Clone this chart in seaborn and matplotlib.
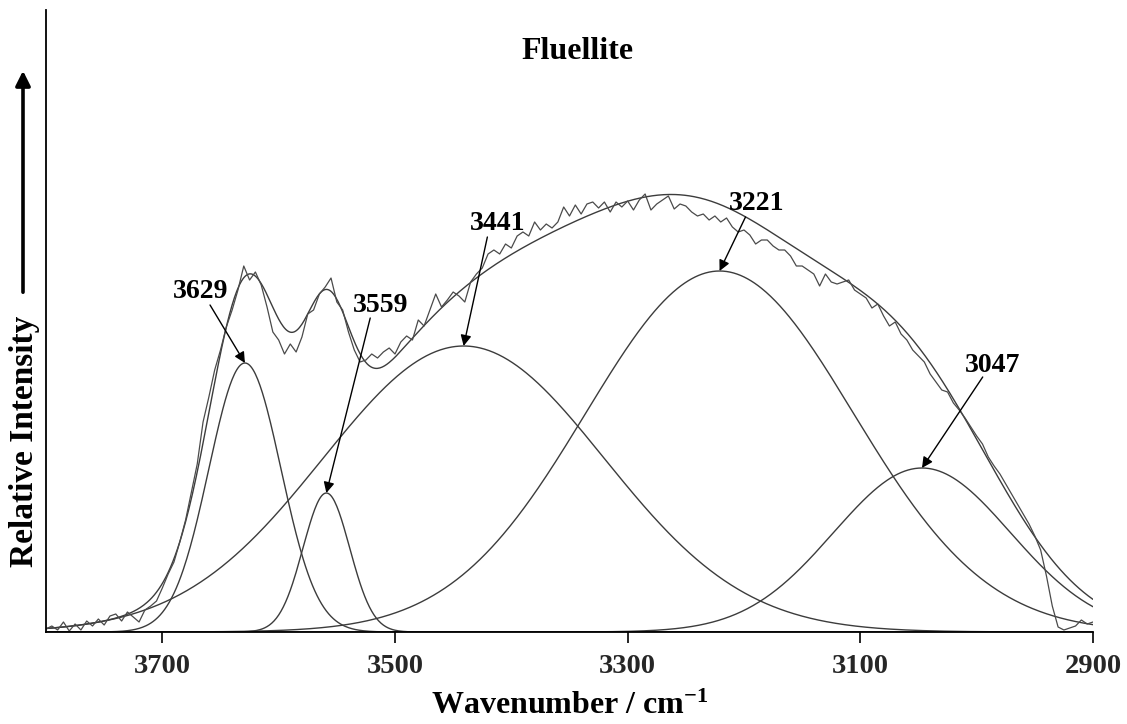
import numpy as np
import pandas as pd
import matplotlib
matplotlib.use("Agg")
import matplotlib.pyplot as plt
import seaborn as sns

# ---- data -----------------------------------------------------------------
band_labels = ["3629", "3559", "3441", "3221", "3047"]
band_centers = [3629, 3559, 3441, 3221, 3047]      # cm-1
band_heights = [269, 139, 286, 361, 164]           # relative intensity
band_sigmas = [31, 20, 121, 115, 76]               # cm-1 (Gaussian width)

obs_first, obs_step = 3800, 5
observed = [
    3, 6, 2, 10, 1, 8, 2, 11, 6, 13,
    7, 16, 18, 11, 20, 15, 10, 22, 26, 31,
    44, 58, 70, 90, 112, 140, 168, 210, 235, 262,
    282, 305, 322, 342, 366, 352, 360, 347, 325, 300,
    292, 278, 288, 280, 295, 318, 322, 338, 345, 354,
    330, 322, 300, 282, 270, 272, 278, 274, 280, 284,
    278, 290, 296, 292, 312, 306, 322, 338, 325, 332,
    340, 336, 330, 350, 358, 364, 378, 382, 378, 388,
    384, 396, 400, 396, 410, 402, 408, 404, 410, 425,
    416, 427, 418, 428, 430, 424, 430, 420, 430, 425,
    431, 422, 432, 438, 422, 428, 432, 436, 423, 428,
    426, 420, 416, 418, 412, 416, 410, 414, 405, 400,
    402, 397, 388, 392, 392, 386, 382, 382, 376, 366,
    366, 362, 358, 346, 358, 350, 348, 350, 352, 342,
    338, 334, 324, 328, 316, 306, 310, 298, 292, 282,
    276, 270, 258, 250, 242, 240, 229, 222, 214, 205,
    196, 188, 175, 166, 158, 148, 138, 128, 118, 108,
    96, 82, 56, 26, 5, 2, 4, 6, 12, 8,
    10,
]
x_ticks = [3700, 3500, 3300, 3100, 2900]

# ---- build tables ----------------------------------------------------------
wn = np.linspace(3800, 2900, 901)
comp_rows = []
for lab, c, h, s in zip(band_labels, band_centers, band_heights, band_sigmas):
    comp_rows.append(pd.DataFrame({"wn": wn, "I": h * np.exp(-(wn - c) ** 2 / (2 * s ** 2)), "band": lab}))
comp_df = pd.concat(comp_rows, ignore_index=True)
fit_df = comp_df.groupby("wn", as_index=False)["I"].sum()
obs_df = pd.DataFrame({"wn": obs_first - obs_step * np.arange(len(observed)), "I": observed})

# ---- style -----------------------------------------------------------------
sns.set_theme(style="ticks")
plt.rcParams["font.family"] = ["Liberation Serif", "DejaVu Serif"]
plt.rcParams["font.weight"] = "bold"
plt.rcParams["mathtext.fontset"] = "custom"
plt.rcParams["mathtext.rm"] = "Liberation Serif:bold"
plt.rcParams["mathtext.it"] = "Liberation Serif:bold"
plt.rcParams["mathtext.bf"] = "Liberation Serif:bold"

W, H = 1127, 724
fig = plt.figure(figsize=(W / 100, H / 100), dpi=100)
ax = fig.add_axes([46 / W, 1 - 632 / H, (1093 - 46) / W, (632 - 10) / H])

line_col = "#3c3c3c"
sns.lineplot(data=comp_df, x="wn", y="I", units="band", estimator=None,
             color=line_col, lw=1.0, ax=ax, legend=False)
sns.lineplot(data=fit_df, x="wn", y="I", color=line_col, lw=1.0, ax=ax)
sns.lineplot(data=obs_df, x="wn", y="I", color="#4a4a4a", lw=0.9, ax=ax)

ax.set_xlim(3800, 2900)
ax.set_ylim(0, 622)
ax.set_xticks(x_ticks)
ax.set_xticklabels([str(t) for t in x_ticks], fontsize=20.5, fontweight="bold")
ax.set_yticks([])
ax.tick_params(axis="x", direction="out", length=8, width=1.2, color="black", pad=8)
for side in ["top", "right"]:
    ax.spines[side].set_visible(False)
for side in ["left", "bottom"]:
    ax.spines[side].set_color("black")
    ax.spines[side].set_linewidth(1.3)

ax.set_xlabel(r"Wavenumber / cm$^{-1}$", fontsize=23, fontweight="bold", labelpad=9, color="black")
ax.set_ylabel("Relative Intensity", fontsize=24, fontweight="bold", color="black")
ax.yaxis.set_label_coords((40 - 46) / 1047, (632 - 441) / 622)
ax.set_title("Fluellite", fontsize=23, fontweight="bold", x=(578 - 46) / 1047,
             y=(632 - 59) / 622, pad=0, color="black")

# arrow beside the y label
fig.add_artist(matplotlib.patches.FancyArrowPatch(
    (23 / W, 1 - 295 / H), (23 / W, 1 - 68 / H), transform=fig.transFigure,
    arrowstyle="-|>", mutation_scale=22, lw=2.6, color="black"))

# peak labels: text position, arrow tail (wn, I); arrow tip at band peak
label_pos = {"3629": (3667.5, 340), "3559": (3512.7, 326), "3441": (3412.0, 408),
             "3221": (3189.2, 428), "3047": (2986.2, 267)}
tail_pos = {"3629": (3659.0, 327), "3559": (3521.3, 314), "3441": (3420.6, 395),
            "3221": (3198.7, 415), "3047": (2994.8, 255)}
for lab, c, h in zip(band_labels, band_centers, band_heights):
    tx, ty = label_pos[lab]
    ax.text(tx, ty, lab, fontsize=20, fontweight="bold", ha="center", va="center", color="black")
    ax.annotate("", xy=(c, h), xytext=tail_pos[lab],
                arrowprops=dict(arrowstyle="-|>", color="black", lw=1.0,
                                mutation_scale=16, shrinkA=0, shrinkB=0))

fig.savefig("out.png", dpi=100)
